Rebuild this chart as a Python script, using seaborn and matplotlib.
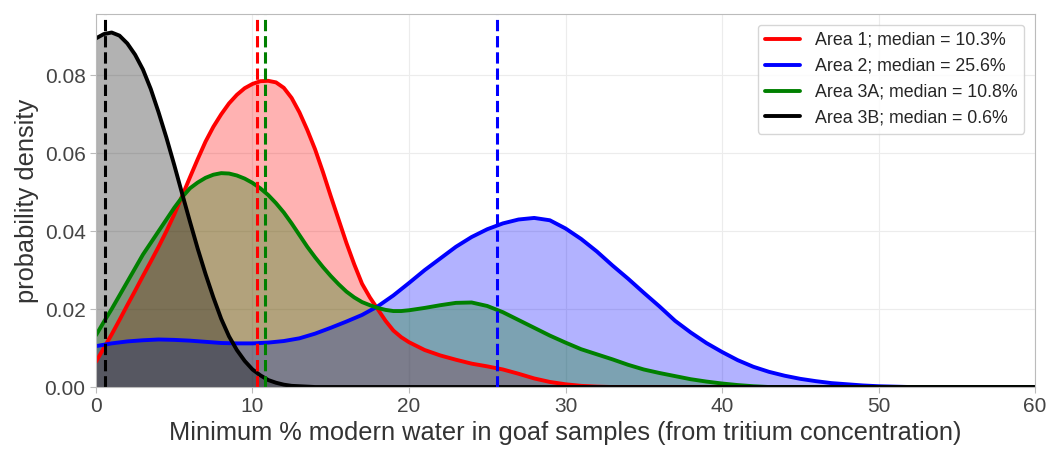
import matplotlib
matplotlib.use('Agg')
import matplotlib.pyplot as plt
import numpy as np
import pandas as pd
import seaborn as sns

# density values
# half-percent steps where the curves bend hard, whole percent elsewhere
fine = [i / 2 for i in range(0, 41)]        # 0 .. 20 by 0.5
coarse = list(range(21, 61))                # 21 .. 60
whole = list(range(0, 61))

area1_x = fine + coarse
area1 = [0.0065, 0.0100, 0.0135, 0.0172, 0.021, 0.0247, 0.0285, 0.0322, 0.036, 0.040,
         0.0443, 0.049, 0.0538, 0.0585, 0.063, 0.0668, 0.070, 0.0728, 0.075, 0.0767,
         0.0778, 0.0785, 0.0786, 0.0782, 0.0768, 0.0742, 0.0705, 0.066, 0.061, 0.0552,
         0.049, 0.043, 0.037, 0.0315, 0.0265, 0.023, 0.020, 0.017, 0.0145, 0.0128,
         0.0115,
         0.0095, 0.0081, 0.007, 0.006, 0.0053, 0.0045, 0.0034, 0.0022, 0.0013, 0.0007,
         0.0003, 0.0001] + [0.0] * 28

area2_x = whole
area2 = [0.0105, 0.0112, 0.0117, 0.012, 0.0122, 0.0121, 0.0119, 0.0116, 0.0113, 0.0112,
         0.0112, 0.0114, 0.0118, 0.0125, 0.0137, 0.0152, 0.0168, 0.0185, 0.0207, 0.0235,
         0.0267, 0.030, 0.033, 0.036, 0.0385, 0.0405, 0.042, 0.043, 0.0434, 0.0428,
         0.0407, 0.038, 0.0348, 0.0312, 0.0278, 0.0242, 0.0207, 0.017, 0.014, 0.0113,
         0.009, 0.0069, 0.0052, 0.0039, 0.0029, 0.0021, 0.0015, 0.001, 0.0007, 0.0004,
         0.0002, 0.0001] + [0.0] * 9

area3a_x = fine + coarse
area3a = [0.0133, 0.0167, 0.020, 0.0235, 0.027, 0.0305, 0.034, 0.037, 0.040, 0.043,
          0.046, 0.0487, 0.051, 0.0525, 0.0537, 0.0545, 0.0549, 0.0548, 0.0543, 0.0535,
          0.0524, 0.051, 0.0493, 0.0472, 0.0448, 0.042, 0.039, 0.036, 0.0333, 0.0308,
          0.0285, 0.0264, 0.0245, 0.023, 0.0218, 0.021, 0.0203, 0.0198, 0.0195, 0.0195,
          0.0197,
          0.0203, 0.021, 0.0216, 0.0217, 0.0208, 0.0192, 0.0172, 0.0152, 0.0132, 0.0114,
          0.0097, 0.0084, 0.0071, 0.0057, 0.0045, 0.0036, 0.0028, 0.002, 0.0014, 0.0009,
          0.0005, 0.0002] + [0.0] * 18

area3b_x = fine + coarse
area3b = [0.0895, 0.0906, 0.091, 0.0902, 0.0882, 0.0853, 0.0815, 0.0765, 0.0705, 0.064,
          0.057, 0.0497, 0.0425, 0.0355, 0.029, 0.023, 0.0175, 0.013, 0.0095, 0.0067,
          0.0045, 0.003, 0.0018, 0.0011, 0.0006, 0.0003, 0.0002, 0.0001] + [0.0] * 53

names = ['Area 1', 'Area 2', 'Area 3A', 'Area 3B']
medians = [10.3, 25.6, 10.8, 0.6]
colors = ['red', 'blue', 'green', 'black']

df = pd.concat([
    pd.DataFrame({'pct': xs, 'density': ys, 'area': nm})
    for nm, xs, ys in zip(names, [area1_x, area2_x, area3a_x, area3b_x],
                          [area1, area2, area3a, area3b])
])

sns.set_style('whitegrid', {'grid.color': '#ececec', 'axes.edgecolor': '#bbbbbb',
                            'xtick.bottom': True, 'ytick.left': True})
plt.rcParams['font.family'] = ['Liberation Sans', 'DejaVu Sans']

fig = plt.figure(figsize=(10.48, 4.58), dpi=100)
ax = fig.add_axes([0.0916, 0.155, 0.896, 0.814])

for nm, col in zip(names, colors):
    sub = df[df['area'] == nm]
    ax.fill_between(sub['pct'], sub['density'], color=col, alpha=0.3, linewidth=0)

sns.lineplot(data=df, x='pct', y='density', hue='area', palette=colors,
             linewidth=2.8, ax=ax)

for med, col in zip(medians, colors):
    ax.axvline(med, color=col, linestyle='--', linewidth=2.2)

ax.set_xlim(0, 60)
ax.set_ylim(0, 0.0957)
ax.set_yticks([0.0, 0.02, 0.04, 0.06, 0.08])
ax.tick_params(labelsize=15, length=4, color='#bbbbbb', colors='#444444')
ax.set_xlabel('Minimum % modern water in goaf samples (from tritium concentration)',
              fontsize=18.3, color='#333333', labelpad=3)
ax.set_ylabel('probability density', fontsize=18.3, color='#333333')

handles = ax.get_legend().legend_handles
labels = [f'{nm}; median = {m}%' for nm, m in zip(names, medians)]
ax.legend(handles=handles, labels=labels, loc='upper right', fontsize=12.8,
          frameon=True, edgecolor='#cccccc', fancybox=True, labelspacing=0.5,
          borderaxespad=0.6)

fig.savefig('out.png', dpi=100)
